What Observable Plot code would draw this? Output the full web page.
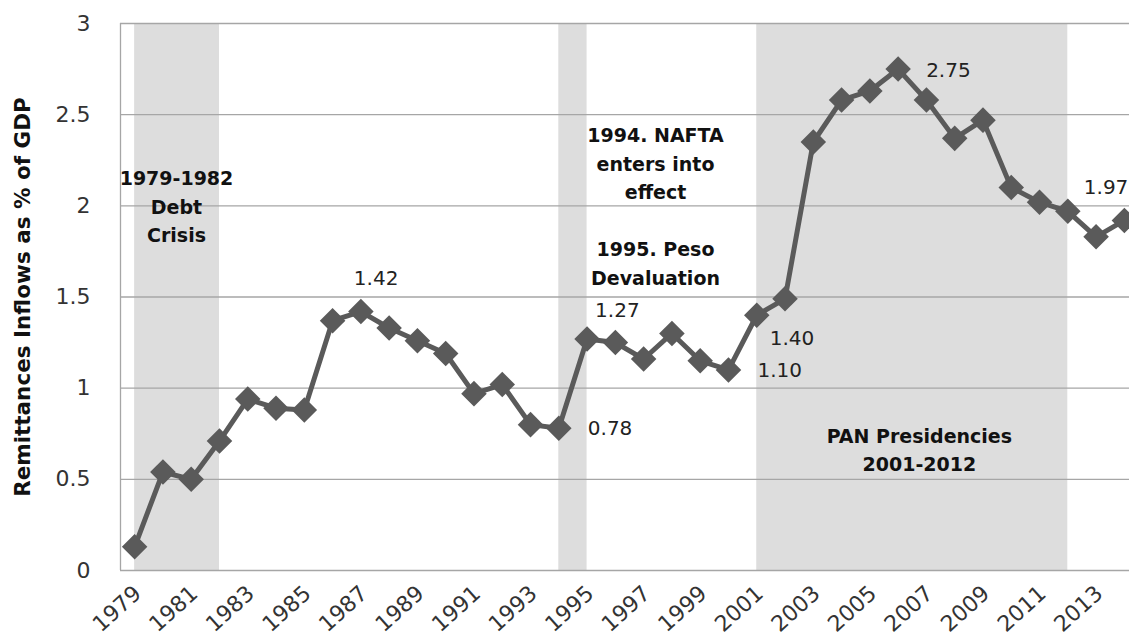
<!DOCTYPE html>
<html>
<head>
<meta charset="utf-8">
<script src="https://cdn.jsdelivr.net/npm/d3@7"></script>
<script src="https://cdn.jsdelivr.net/npm/@observablehq/plot@0.6"></script>
<style>
  html, body { margin: 0; padding: 0; background: #fff; overflow: hidden; }
  #chart svg { display: block; }
</style>
</head>
<body>
<div id="chart"></div>
<script>
// ---- data ----
const years = d3.range(1979, 2015);
const values = [
  0.13, 0.54, 0.50, 0.71, 0.94, 0.89, 0.88, 1.37, 1.42, 1.33,
  1.26, 1.19, 0.97, 1.02, 0.80, 0.78, 1.27, 1.25, 1.16, 1.30,
  1.15, 1.10, 1.40, 1.49, 2.35, 2.58, 2.63, 2.75, 2.58, 2.37,
  2.47, 2.10, 2.02, 1.97, 1.83, 1.92
];
const labelledYears = [1987, 1994, 1995, 2000, 2001, 2006, 2012];
const xTickYears = d3.range(1979, 2014, 2);
const yTicks = [0, 0.5, 1, 1.5, 2, 2.5, 3];
const periodStarts = [1979, 1994, 2001];
const periodEnds = [1982, 1995, 2012];
const annotationTexts = [
  "1979-1982\nDebt\nCrisis",
  "1994. NAFTA\nenters into\neffect",
  "1995. Peso\nDevaluation",
  "PAN Presidencies\n2001-2012"
];
const annotationX = [1980.48, 1997.42, 1997.42, 2006.75];
const annotationY = [2.007, 2.243, 1.695, 0.672];
const yTitle = "Remittances Inflows as % of GDP";

// ---- build tables ----
const series = years.map((year, i) => ({year, value: values[i]}));
const labelled = series.filter(d => labelledYears.includes(d.year));
const periods = periodStarts.map((s, i) => ({start: s, end: periodEnds[i]}));
const annotations = annotationTexts.map((t, i) => ({text: t, x: annotationX[i], y: annotationY[i]}));

// label placement (pixel offsets from each labelled point)
const labelOffset = {
  1987: [-7, -33], 1994: [29, 0], 1995: [8, -28], 2000: [29, 1],
  2001: [13, 23], 2006: [28, 2], 2012: [16, -24]
};

const FONT = "DejaVu Sans";
const dark = "#5a5a5a";
const xDomain = [1978.5, 2014.5];

const chart = Plot.plot({
  width: 1129,
  height: 643,
  marginLeft: 120,
  marginRight: 0,
  marginTop: 23,
  marginBottom: 73,
  style: {fontFamily: FONT, background: "#fff", overflow: "hidden"},
  x: {domain: xDomain, range: [120, 1138], axis: null},
  y: {domain: [0, 3], axis: null},
  marks: [
    Plot.rect(periods, {x1: "start", x2: "end", y1: 0, y2: 3, fill: "#dddddd"}),
    Plot.ruleY(yTicks, {stroke: "#a6a6a6", strokeWidth: 1.3}),
    Plot.ruleX([xDomain[0]], {y1: 0, y2: 3, stroke: "#a6a6a6", strokeWidth: 1.3}),
    Plot.line(series, {x: "year", y: "value", stroke: dark, strokeWidth: 5, strokeLinejoin: "round"}),
    Plot.dot(series, {x: "year", y: "value", symbol: "diamond2", r: 11.5, fill: dark, stroke: "none"}),
    // data labels
    ...labelled.map(d => Plot.text([d], {
      x: "year", y: "value", text: v => v.value.toFixed(2),
      dx: labelOffset[d.year][0], dy: labelOffset[d.year][1],
      textAnchor: "start", fontSize: 20, fill: "#222"
    })),
    // annotations
    Plot.text(annotations, {
      x: "x", y: "y", text: "text", textAnchor: "middle", lineAnchor: "middle",
      lineHeight: 1.5, fontSize: 19, fontWeight: "bold", fill: "#111"
    }),
    // y tick labels
    Plot.text(yTicks, {
      y: d => d, frameAnchor: "left", text: d => String(d),
      dx: -30, textAnchor: "end", fontSize: 22, fill: "#333"
    }),
    // x tick labels
    Plot.text(xTickYears, {
      x: d => d, frameAnchor: "bottom", text: d => String(d),
      dx: 8, dy: 25, rotate: -42, textAnchor: "end", fontSize: 22, fill: "#333"
    }),
    // y axis title
    Plot.text([yTitle], {
      frameAnchor: "left", dx: -97, rotate: -90, textAnchor: "middle",
      fontSize: 21.5, fontWeight: "bold", fill: "#111"
    })
  ]
});
document.getElementById("chart").appendChild(chart);
</script>
</body>
</html>
